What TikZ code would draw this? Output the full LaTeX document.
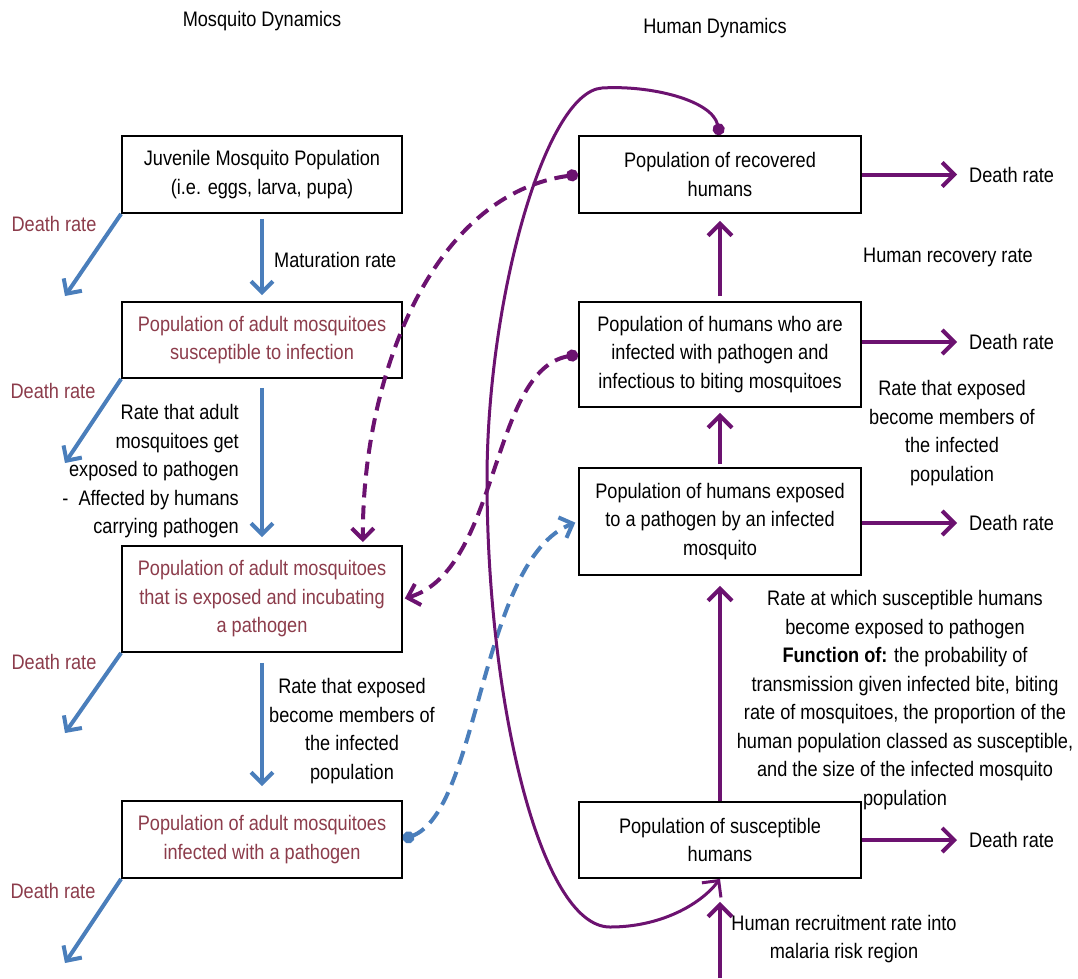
\documentclass[tikz,border=0pt]{standalone}
\usepackage{fontspec}
\setmainfont{Liberation Sans}[FakeStretch=0.865]
\usetikzlibrary{arrows.meta,calc}
\definecolor{mblue}{RGB}{74,126,187}
\definecolor{mpurp}{RGB}{108,18,112}
\definecolor{mred}{RGB}{140,60,75}
\begin{document}
\begin{tikzpicture}[x=1pt,y=-1pt,
  every node/.style={font=\fontsize{21}{28.5}\selectfont, inner sep=0pt, align=center},
  lbox/.style={draw=black, line width=1.8pt, minimum width=280pt, text=mred},
  rbox/.style={draw=black, line width=1.8pt, minimum width=282pt},
  barr/.style={draw=mblue, line width=4pt, -{Straight Barb[length=11pt,width=22pt]}},
  parr/.style={draw=mpurp, line width=4pt, -{Straight Barb[length=12pt,width=24pt]}},
  pdash/.style={draw=mpurp, line width=4pt, dash pattern=on 14pt off 8pt,
     {Circle[length=12pt]}-{Straight Barb[length=11pt,width=22pt]}},
  bdash/.style={draw=mblue, line width=4pt, dash pattern=on 14pt off 8pt,
     {Circle[length=12pt]}-{Straight Barb[length=11pt,width=22pt]}},
  pcurve/.style={draw=mpurp, line width=3pt,
     {Circle[length=12pt]}-{Straight Barb[length=12pt,width=24pt]}},
  dlab/.style={text=mred}
]
\useasboundingbox (0,0) rectangle (1078,978);

% titles
\node (tm) at (262,21) {Mosquito Dynamics};
\node (th) at (715,28) {Human Dynamics};

% mosquito boxes
\node[lbox, minimum height=77pt] (jm) at (262,174.5) {\color{black}Juvenile Mosquito Population\\\color{black}(i.e. eggs, larva, pupa)};
\node[lbox, minimum height=76pt] (sm) at (262,340) {Population of adult mosquitoes\\susceptible to infection};
\node[lbox, minimum height=106pt] (em) at (262,599) {Population of adult mosquitoes\\that is exposed and incubating\\a pathogen};
\node[lbox, minimum height=77pt] (im) at (262,839.5) {Population of adult mosquitoes\\infected with a pathogen};

% human boxes
\node[rbox, minimum height=77pt] (rh) at (720,174.5) {Population of recovered\\humans};
\node[rbox, minimum height=105pt] (ih) at (720,354.5) {Population of humans who are\\infected with pathogen and\\infectious to biting mosquitoes};
\node[rbox, minimum height=107pt] (eh) at (720,521.5) {Population of humans exposed\\to a pathogen by an infected\\mosquito};
\node[rbox, minimum height=76pt] (sh) at (720,840) {Population of susceptible\\humans};

% left death rates
\node[dlab] (d1) at (54,224) {Death rate};
\node[dlab] (d2) at (53,391) {Death rate};
\node[dlab] (d3) at (54,662) {Death rate};
\node[dlab] (d4) at (53,891) {Death rate};
\coordinate (e1) at (65,296);
\coordinate (e2) at (65,463);
\coordinate (e3) at (65,733);
\coordinate (e4) at (65,963);
\draw[barr] (jm.south west) -- (e1);
\draw[barr] (sm.south west) -- (e2);
\draw[barr] (em.south west) -- (e3);
\draw[barr] (im.south west) -- (e4);

% mosquito flow
\draw[barr, shorten <=5pt, shorten >=6pt] (jm.south) -- (sm.north);
\draw[barr, shorten <=9pt, shorten >=8pt] (sm.south) -- (em.north);
\draw[barr, shorten <=10pt, shorten >=14pt] (em.south) -- (im.north);

\node[anchor=west] (lmat) at (274,260) {Maturation rate};
\node[anchor=east, align=right] (lexp) at (239,471.5) {Rate that adult\\mosquitoes get\\exposed to pathogen\\-\ \ Affected by humans\\carrying pathogen};
\node (linf) at (352,731) {Rate that exposed\\become members of\\the infected\\population};

% right death rates
\node[anchor=west] (r1) at (969,175) {Death rate};
\node[anchor=west] (r2) at (969,342) {Death rate};
\node[anchor=west] (r3) at (969,523) {Death rate};
\node[anchor=west] (r4) at (969,840) {Death rate};
\draw[parr, shorten >=12pt] (rh.east) -- (rh.east -| r1.west);
\draw[parr, shorten >=12pt] (ih.east |- r2) -- (r2.west);
\draw[parr, shorten >=12pt] (eh.east |- r3) -- (r3.west);
\draw[parr, shorten >=12pt] (sh.east) -- (r4.west);

% human flow
\draw[parr, shorten <=5pt, shorten >=7pt] (ih.north) -- (rh.south);
\draw[parr, shorten <=3pt, shorten >=5pt] (eh.north) -- (ih.south);
\draw[parr, shorten >=10pt] (sh.north) -- (eh.south);
\coordinate (rin) at (720,978);
\draw[parr, shorten >=23pt] (rin) -- (sh.south);

\node (lrec) at (948,257) {Human recovery rate};
\node (lhinf) at (952,433) {Rate that exposed\\become members of\\the infected\\population};
\node (lfun) at (905,700) {Rate at which susceptible humans\\become exposed to pathogen\\\textbf{Function of:} the probability of\\transmission given infected bite, biting\\rate of mosquitoes, the proportion of the\\human population classed as susceptible,\\and the size of the infected mosquito\\population};
\node (lrecr) at (844,939) {Human recruitment rate into\\malaria risk region};

% cross links
\draw[pdash, shorten >=3pt] (rh.west) .. controls (430,195) and (362,380) .. ([xshift=-40pt]em.north east);
\draw[pdash, shorten >=2pt] (ih.west) .. controls (490,370) and (500,570) .. (em.east);
\draw[bdash, shorten >=3pt] (im.east) .. controls (480,810) and (480,560) .. (eh.west);

% loss of immunity
\draw[pcurve] (rh.north) .. controls (712,100) and (650,85) .. (602,88)
   .. controls (545,92) and (487,300) .. (487,480)
   .. controls (487,700) and (540,927) .. (610,927)
   .. controls (660,927) and (700,905) .. (sh.south);
\end{tikzpicture}
\end{document}
